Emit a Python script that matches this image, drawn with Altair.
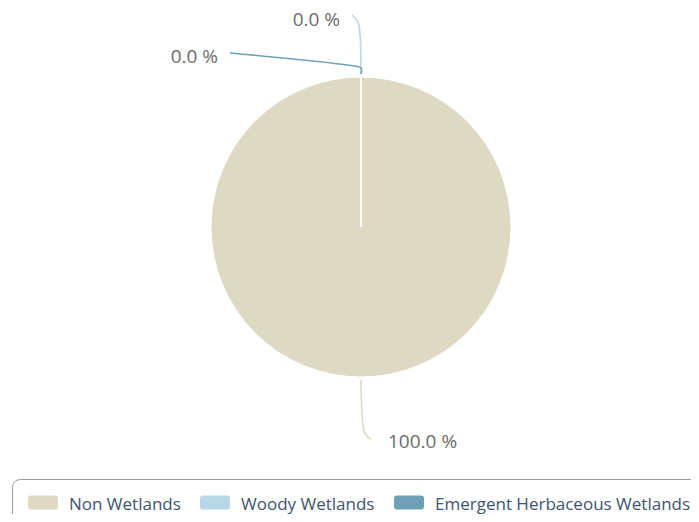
import math
import altair as alt
import pandas as pd

# ---- data ----
categories = ["Non Wetlands", "Woody Wetlands", "Emergent Herbaceous Wetlands"]
values = [100.0, 0.0, 0.0]
colors = ["#DDD9C3", "#B8D7E9", "#6EA0B6"]

# ---- layout / style constants ----
CX, CY, R = 353, 219, 150
ANCHOR_R = R + 3
# connector shape (pixel offsets from the slice anchor), label offset from connector end, label align
connector_shape = {
    "Non Wetlands": ([(0, 0), (2, 45), (5, 55), (10, 59)], (17, 3), "left"),
    "Woody Wetlands": ([(0, 0), (-1, -40), (-3, -52), (-9, -59)], (-12, 5), "right"),
    "Emergent Herbaceous Wetlands": ([(0, 0), (0, -6), (-14, -9), (-131, -21)], (-12, 4), "right"),
}

total = sum(values)
df = pd.DataFrame({"category": categories, "value": values, "order": list(range(len(values)))})

# mid angles of slices (clockwise from top)
mids = []
cum = 0.0
for v in values:
    a0 = cum / total * 2 * math.pi
    cum += v
    a1 = cum / total * 2 * math.pi
    mids.append((a0 + a1) / 2)

line_rows, text_rows = [], []
for cat, v, m in zip(categories, values, mids):
    ax = CX + ANCHOR_R * math.sin(m)
    ay = CY - ANCHOR_R * math.cos(m)
    pts, (lx, ly), align = connector_shape[cat]
    for i, (dx, dy) in enumerate(pts):
        line_rows.append({"category": cat, "x": ax + dx, "y": ay + dy, "idx": i})
    ex, ey = ax + pts[-1][0], ay + pts[-1][1]
    text_rows.append({"category": cat, "label": f"{v / total * 100:.1f} %",
                      "x": ex + lx, "y": ey + ly, "align": align})

df_lines = pd.DataFrame(line_rows)
df_text = pd.DataFrame(text_rows)

color_scale = alt.Scale(domain=categories, range=colors)

# rounded-rectangle legend symbol (30 x 14 px), drawn slightly above the entry centre
sym = ("M-0.8,-0.9667 L0.8,-0.9667 Q1,-0.9667 1,-0.7667 L1,-0.2333 Q1,-0.0333 0.8,-0.0333 "
       "L-0.8,-0.0333 Q-1,-0.0333 -1,-0.2333 L-1,-0.7667 Q-1,-0.9667 -0.8,-0.9667 Z")

legend = alt.Legend(
    title=None, orient="none", legendX=4, legendY=471, direction="horizontal",
    symbolType=sym, symbolSize=900, symbolStrokeWidth=0, symbolOpacity=1,
    labelFont="Open Sans", labelFontSize=17, labelColor="#3e5470", labelOffset=11,
    labelBaseline="alphabetic", labelLimit=0,
    columnPadding=19, padding=16, strokeColor="#999999", cornerRadius=8, fillColor="white",
)

arcs = alt.Chart(df).mark_arc(radius=R, stroke="white", strokeWidth=1).encode(
    theta=alt.Theta("value:Q", stack=True),
    color=alt.Color("category:N", scale=color_scale, sort=categories, legend=legend),
    order=alt.Order("order:Q"),
    x=alt.value(CX),
    y=alt.value(CY),
)

lines = alt.Chart(df_lines).mark_line(interpolate="catmull-rom", strokeWidth=1.6).encode(
    x=alt.X("x:Q", scale=None, axis=None),
    y=alt.Y("y:Q", scale=None, axis=None),
    detail="category:N",
    order="idx:Q",
    stroke=alt.Stroke("category:N", scale=color_scale, legend=None),
)

text_left = alt.Chart(df_text).transform_filter(alt.datum.align == "left").mark_text(
    align="left", baseline="middle", font="Open Sans", fontSize=19, color="#6b6b6b"
).encode(x=alt.X("x:Q", scale=None, axis=None), y=alt.Y("y:Q", scale=None, axis=None), text="label:N")

text_right = alt.Chart(df_text).transform_filter(alt.datum.align == "right").mark_text(
    align="right", baseline="middle", font="Open Sans", fontSize=19, color="#6b6b6b"
).encode(x=alt.X("x:Q", scale=None, axis=None), y=alt.Y("y:Q", scale=None, axis=None), text="label:N")

chart = alt.layer(arcs, lines, text_left, text_right).resolve_scale(stroke="independent").properties(
    width=683, height=506, autosize=alt.AutoSizeParams(type="none"), padding=0,
).configure_view(stroke=None)

chart.save("out.html", embed_options={"renderer": "svg", "actions": False})
